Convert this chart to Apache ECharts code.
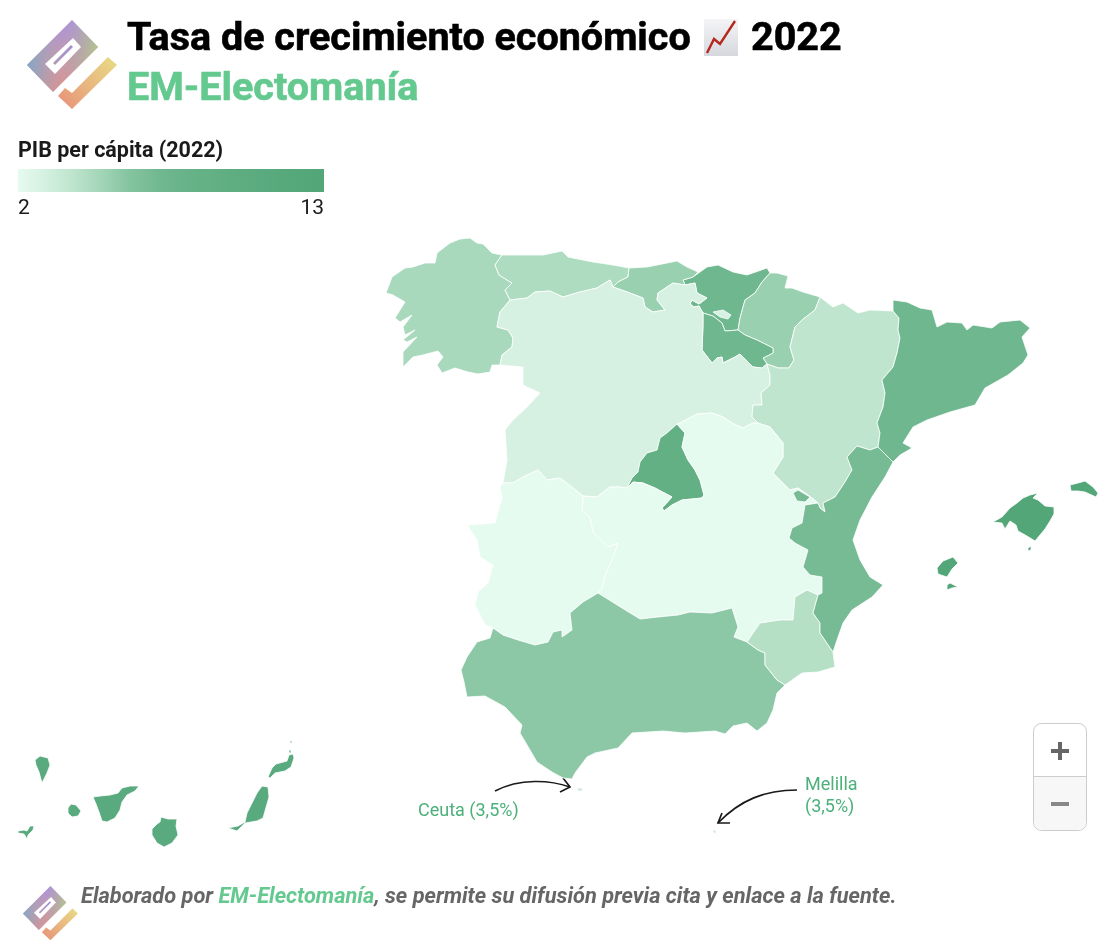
<!DOCTYPE html>
<html><head><meta charset="utf-8">
<style>html,body{margin:0;padding:0;background:#fff}#c{width:1108px;height:950px}</style>
<script src="https://cdn.jsdelivr.net/npm/echarts@6/dist/echarts.min.js"></script>
</head><body><div id="c"></div>
<script>
// ---- data ----
const regionNames = ['Galicia','Asturias','Cantabria','País Vasco','Navarra','La Rioja','Castilla y León','Madrid','Aragón','Cataluña','Castilla-La Mancha','Extremadura','Andalucía','Murcia','C. Valenciana','Baleares','Canarias','Ceuta','Melilla'];
const regionValues = [4.75,4.55,5.3,7.3,5.3,7.3,2.9,9,3.9,7.3,2.0,2.0,5.75,4.3,6.8,13,11,3.5,3.5];
const rampColors = ['#e6fbf0','#d4f0df','#bde4cd','#a2d5b7','#85c4a0','#72b991','#68b389','#62b084','#5dad81','#59aa7e','#55a87a','#52a677'];
const legendTitle = 'PIB per cápita (2022)';
const legendMin = 2, legendMax = 13;
const titleText = 'Tasa de crecimiento económico';
const titleYear = '2022';
const subtitleText = 'EM-Electomanía';

// ---- map geometry (map units) ----
const galAst=[[502,255],[495,265],[499,275],[507,280],[512,283],[505,290],[510,300]];
const galCyl=[[510,300],[500,312],[497,327],[508,330],[513,338],[512,347],[502,355],[500,365]];
const astCyl=[[510,300],[527,298],[535,292],[550,291],[563,297],[580,292],[597,288],[610,280],[613,287]];
const astCan=[[629,268],[628,277],[618,282],[613,287]];
const canCyl=[[613,287],[630,293],[643,298],[645,307],[653,312],[665,310],[657,300],[658,293],[673,283],[685,285]];
const pvW=[[685,285],[695,283],[697,293],[707,298],[699,304],[692,300],[690,304],[694,307],[699,306],[703,313]];
const pvRio=[[703,313],[713,316],[722,323],[725,331],[738,330]];
const navRio=[[738,330],[745,335],[757,340],[773,348],[773,353],[763,358],[767,364],[778,368],[789,368]];
const rioCyl=[[703,313],[703,325],[702,350],[712,363],[717,358],[722,357],[723,363],[735,357],[740,354],[753,367],[762,368],[767,364]];
const navPv=[[770,273],[762,282],[755,293],[745,300],[740,318],[738,330]];
const navAra=[[820,297],[815,310],[802,320],[795,327],[790,347],[794,360],[789,368]];
const araCyl=[[767,364],[770,375],[770,385],[761,393],[762,405],[753,405],[752,417],[758,423]];
const cylClmN=[[758,423],[753,423],[743,428],[732,423],[723,417],[712,413],[697,414],[680,423],[677,424]];
const madCyl=[[677,424],[667,433],[660,438],[657,450],[647,453],[640,462],[638,472],[632,478],[627,488]];
const madS=[[627,488],[633,482],[643,483],[655,488],[672,497],[662,508],[664,511],[672,505],[682,500],[702,498],[704,495],[700,480],[695,470],[688,460],[682,447],[685,433],[677,424]];
const cylClmS=[[627,488],[620,487],[610,487],[597,497],[583,496]];
const cylExt=[[583,496],[573,488],[560,478],[547,480],[538,470],[523,477],[513,483],[503,483]];
const araCat=[[893,311],[899,318],[898,330],[900,338],[897,353],[893,367],[882,380],[885,393],[883,407],[877,423],[880,433],[878,447]];
const araVal=[[878,447],[870,450],[857,446],[847,457],[852,470],[845,482],[835,497],[823,503],[825,512],[820,508],[818,503]];
const araClm=[[818,503],[812,498],[798,488],[790,490],[773,473],[783,457],[783,443],[770,427],[758,423]];
const valClm=[[818,503],[805,505],[802,523],[792,528],[789,538],[795,543],[808,550],[803,567],[810,575],[822,577],[822,593],[818,595]];
const murVal=[[818,595],[813,613],[820,623],[820,633],[833,652]];
const murClm=[[818,595],[807,590],[795,597],[793,620],[780,620],[760,623],[747,642]];
const andClm=[[747,642],[734,637],[738,627],[732,608],[712,613],[690,612],[678,615],[658,617],[640,619],[622,608],[598,593]];
const andExt=[[598,593],[583,602],[570,613],[572,630],[562,637],[562,630],[553,632],[548,642],[535,645],[518,640],[503,635],[493,628]];
const extClm=[[598,593],[602,588],[605,575],[612,560],[618,543],[608,547],[593,532],[590,518],[582,510],[583,496]];
const andMur=[[747,642],[758,650],[765,653],[765,665],[777,680],[785,685]];
const rev=a=>a.slice().reverse();
const join=(...p)=>{const o=[];p.forEach(s=>s.forEach(q=>{const l=o[o.length-1];if(!l||l[0]!==q[0]||l[1]!==q[1])o.push(q);}));if(o[0][0]!==o[o.length-1][0]||o[0][1]!==o[o.length-1][1])o.push(o[0]);return o;};

const shapes={
'Galicia':[join([[386,293],[392,277],[405,268],[413,267],[425,263],[435,263],[437,253],[450,243],[460,239],[470,238],[477,243],[483,244],[492,253],[502,255]],galAst,galCyl,[[492,365],[490,372],[478,374],[468,372],[455,368],[442,373],[437,365],[443,357],[438,351],[423,355],[413,357],[403,367],[403,352],[417,337],[407,342],[403,340],[415,330],[405,335],[403,327],[412,315],[400,322],[395,318],[405,302],[393,295]])],
'Asturias':[join([[502,255],[523,255],[543,255],[562,251],[568,257],[593,262],[613,265],[629,268]],astCan,rev(astCyl),rev(galAst))],
'Cantabria':[join([[629,268],[647,267],[667,263],[677,261],[687,267],[698,272],[693,277],[683,280],[685,285]],rev(canCyl),rev(astCan))],
'País Vasco':[join([[693,277],[707,267],[718,265],[733,272],[747,275],[767,268],[770,273]],navPv,rev(pvRio),rev(pvW),[[683,280]])],
'Navarra':[join([[770,273],[777,273],[788,276],[785,288],[792,288],[803,292],[820,297]],navAra,rev(navRio),rev(navPv))],
'La Rioja':[join(rioCyl,[[763,358],[773,353],[773,348],[757,340],[745,335],[738,330]],rev(pvRio))],
'Castilla y León':[join(astCyl,canCyl,pvW,rioCyl,araCyl,cylClmN,madCyl,cylClmS,cylExt,[[507,460],[505,430],[513,420],[527,407],[540,393],[527,387],[523,385],[523,367]],rev(galCyl)),
  join([[713,312],[723,310],[731,315],[728,319],[720,317]])],
'Madrid':[join(madS,madCyl)],
'Aragón':[join([[820,297],[833,307],[843,303],[858,313],[870,310],[893,311]],araCat,araVal,araClm,rev(araCyl),[[778,368],[789,368]],rev(navAra))],
'Cataluña':[join([[893,300],[907,302],[920,308],[932,310],[937,327],[947,322],[962,323],[967,330],[973,325],[992,328],[1000,322],[1020,320],[1030,328],[1022,337],[1028,355],[1023,363],[1008,375],[985,388],[975,405],[950,412],[927,420],[913,427],[903,443],[912,448],[900,455],[893,462],[878,447]],rev(araCat))],
'Castilla-La Mancha':[join(rev(cylClmS),madS,rev(cylClmN),rev(araClm),valClm,murClm,andClm,extClm)],
'Extremadura':[join(cylExt,[[500,487],[502,497],[495,523],[467,525],[477,540],[480,557],[493,565],[488,583],[478,592],[475,605],[485,625],[493,628]],rev(andExt),extClm)],
'Andalucía':[join(rev(andClm),andMur,[[777,693],[773,710],[767,723],[757,731],[747,723],[733,726],[725,734],[715,731],[685,733],[663,731],[632,733],[618,748],[595,753],[587,757],[575,773],[572,779],[563,778],[552,772],[537,762],[530,750],[520,733],[522,725],[505,707],[485,696],[467,697],[464,682],[461,670],[467,657],[477,642],[490,638],[493,628]],rev(andExt))],
'Murcia':[join(rev(murClm),murVal,[[835,667],[818,672],[802,673],[785,685]],rev(andMur))],
'C. Valenciana':[join([[893,462],[885,477],[872,497],[860,520],[853,540],[860,560],[870,577],[883,585],[872,597],[852,610],[843,623],[837,640],[833,652]],rev(murVal),rev(valClm),rev(araVal)),
  join([[793,493],[798,490],[810,497],[805,502],[797,501]])],
'Baleares':[join([[993,522],[1002,517],[1010,508],[1017,503],[1023,498],[1030,495],[1038,493],[1033,498],[1038,500],[1045,506],[1054,507],[1054,514],[1050,521],[1045,529],[1040,535],[1035,541],[1027,536],[1018,531],[1016,525],[1010,521],[1005,529],[1002,523]]),
  join([[1070,485],[1078,483],[1085,481],[1093,487],[1098,493],[1096,497],[1085,492],[1078,491],[1071,491]]),
  join([[937,568],[943,561],[953,557],[958,563],[952,569],[947,577],[938,574]]),
  join([[947,585],[950,583],[958,587],[952,588],[947,590]]),
  join([[1028,548],[1031,546],[1031,550],[1028,551]])],
'Canarias':[join([[35,760],[40,756],[48,758],[50,765],[47,773],[42,783],[39,772],[36,765]]),
  join([[68,808],[71,804],[76,805],[81,811],[78,816],[72,817],[68,813]]),
  join([[18,831],[24,830],[27,831],[30,826],[34,826],[33,830],[28,835],[27,839],[24,834],[18,833]]),
  join([[93,797],[100,796],[110,795],[118,793],[122,788],[130,786],[139,786],[135,791],[127,795],[122,802],[120,810],[115,818],[107,822],[102,821],[99,812],[96,804]]),
  join([[161,817],[168,819],[177,819],[176,826],[178,835],[172,843],[164,847],[157,843],[152,835],[152,829],[157,824],[160,822]]),
  join([[228,828],[238,826],[245,822],[247,813],[257,793],[262,786],[268,787],[269,797],[263,818],[257,821],[245,823],[237,831]]),
  join([[268,777],[272,768],[276,764],[287,761],[289,755],[293,754],[294,758],[291,767],[285,771],[275,773],[270,778]]),
  join([[289,750],[291,750],[291,753],[289,753]]),join([[290,741],[292,741],[292,743],[290,743]])],
'Ceuta':[join([[577,788],[582,788],[583,791],[578,791]])],
'Melilla':[join([[713,830],[716,830],[716,833],[713,833]])]
};
const drawOrder=['País Vasco','Galicia','Asturias','Cantabria','Navarra','La Rioja','Castilla y León','Madrid','Aragón','Cataluña','Castilla-La Mancha','Extremadura','Andalucía','Murcia','C. Valenciana','Baleares','Canarias','Ceuta','Melilla'];
const geojson={type:'FeatureCollection',features:drawOrder.map(n=>({type:'Feature',properties:{name:n},geometry:{type:'MultiPolygon',coordinates:shapes[n].map(r=>[r])}}))};
echarts.registerMap('espana',geojson);
let x0=1e9,x1=-1e9,y0=1e9,y1=-1e9;
Object.values(shapes).forEach(m=>m.forEach(r=>r.forEach(p=>{x0=Math.min(x0,p[0]);x1=Math.max(x1,p[0]);y0=Math.min(y0,p[1]);y1=Math.max(y1,p[1]);})));

// ---- logo ----
function logo(ox,oy,s){
  const P=a=>a.map(p=>[ox+(p[0]-27)*s,oy+(p[1]-20)*s]);
  const lg=(x,y,x2,y2,st)=>({type:'linear',x,y,x2,y2,colorStops:st.map((c,i)=>({offset:i/(st.length-1),color:c}))});
  const poly=(pts,fill)=>({type:'polygon',silent:true,shape:{points:P(pts)},style:{fill}});
  const body=[[72,20],[98,47],[53,92],[27,65]];
  return [
    poly(body,lg(0.5,0,0.5,1,['#ad8fe2','#c59cab','#e0918a'])),
    poly(body,lg(0,0.5,1,0.5,['rgba(115,170,205,.85)','rgba(170,160,190,.1)','rgba(175,205,130,.85)'])),
    poly([[73,38],[81,47],[55,74],[45,64]],'#ffffff'),
    poly([[71,45],[73,47],[55,65],[53,63]],lg(1,0,0,1,['#a58fd8','#b09ab8'])),
    poly([[108,57],[117,65],[72,109],[58,96],[65,88],[72,93]],lg(1,0,0,1,['#e8dc84','#e8b880','#e88f78'])),
  ];
}
const GREEN='#63c98f', ANN='#4cb07a';
const T=(text,x,y,style)=>({type:'text',silent:true,x,y,style:Object.assign({text,fontFamily:'Roboto',textVerticalAlign:'middle'},style)});
const graphics=[
  ...logo(27,20,1),
  T(titleText,127,40.5,{fontSize:39.5,fontWeight:'bold',fill:'#000',stroke:'#000',lineWidth:0.6}),
  {type:'rect',silent:true,shape:{x:704,y:19,width:34,height:37},style:{fill:{type:'linear',x:0,y:0,x2:0,y2:1,colorStops:[{offset:0,color:'#f4f4f6'},{offset:1,color:'#d6d8de'}]}}},
  {type:'polyline',silent:true,shape:{points:[[707,53],[714,39],[720,44],[735,21]]},style:{stroke:'#b5281e',lineWidth:2.4,fill:'none'}},
  T(titleYear,751,40.5,{fontSize:39.5,fontWeight:'bold',fill:'#000',stroke:'#000',lineWidth:0.6}),
  T(subtitleText,127,90,{fontSize:39.5,fontWeight:'bold',fill:GREEN,stroke:GREEN,lineWidth:0.6}),
  T(legendTitle,18,152,{fontSize:21.5,fontWeight:'bold',fill:'#1a1a1a'}),
  {type:'rect',silent:true,shape:{x:18,y:169,width:306,height:23},style:{fill:{type:'linear',x:0,y:0,x2:1,y2:0,colorStops:rampColors.map((c,i)=>({offset:i/(rampColors.length-1),color:c}))}}},
  T(String(legendMin),18,208.5,{fontSize:21,fill:'#1a1a1a'}),
  T(String(legendMax),324,208.5,{fontSize:21,fill:'#1a1a1a',textAlign:'right'}),
  T('Ceuta (3,5%)',418,811,{fontSize:18,fill:ANN}),
  T('Melilla',805,785,{fontSize:18,fill:ANN}),
  T('(3,5%)',805,807,{fontSize:18,fill:ANN}),
  {type:'bezierCurve',silent:true,shape:{x1:495,y1:791,x2:570,y2:787,cpx1:520,cpy1:778,cpx2:550,cpy2:780},style:{stroke:'#1a1a1a',lineWidth:1.7,fill:'none'}},
  {type:'polyline',silent:true,shape:{points:[[563,778],[570,787],[560,792]]},style:{stroke:'#1a1a1a',lineWidth:1.7,fill:'none'}},
  {type:'bezierCurve',silent:true,shape:{x1:797,y1:790,x2:718,y2:823,cpx1:765,cpy1:790,cpx2:740,cpy2:800},style:{stroke:'#1a1a1a',lineWidth:1.7,fill:'none'}},
  {type:'polyline',silent:true,shape:{points:[[722,813],[718,823],[730,823]]},style:{stroke:'#1a1a1a',lineWidth:1.7,fill:'none'}},
  {type:'rect',silent:true,shape:{x:1033.5,y:723.5,width:53,height:107,r:8},style:{fill:'#fff',stroke:'#ccc',lineWidth:1}},
  {type:'rect',silent:true,shape:{x:1034,y:777,width:52,height:53,r:[0,0,8,8]},style:{fill:'#f7f7f7'}},
  {type:'line',silent:true,shape:{x1:1033,y1:776.5,x2:1087,y2:776.5},style:{stroke:'#ccc',lineWidth:1}},
  {type:'rect',silent:true,shape:{x:1051,y:749,width:18,height:4},style:{fill:'#666'}},
  {type:'rect',silent:true,shape:{x:1058,y:742,width:4,height:18},style:{fill:'#666'}},
  {type:'rect',silent:true,shape:{x:1051,y:802,width:18,height:4},style:{fill:'#888'}},
  ...logo(23,886,0.61),
  {type:'text',silent:true,x:81,y:898,style:{text:'{a|Elaborado por }{b|EM-Electomanía}{a|, se permite su difusión previa cita y enlace a la fuente.}',textVerticalAlign:'middle',rich:{a:{fontFamily:'Roboto',fontSize:21.8,fontWeight:'bold',fontStyle:'italic',fill:'#666'},b:{fontFamily:'Roboto',fontSize:21.8,fontWeight:'bold',fontStyle:'italic',fill:GREEN}}}}
];

const chart=echarts.init(document.getElementById('c'),null,{renderer:'canvas'});
chart.setOption({
  animation:false,
  backgroundColor:'#fff',
  visualMap:{type:'continuous',show:false,min:legendMin,max:legendMax,inRange:{color:rampColors}},
  series:[{type:'map',map:'espana',roam:false,silent:true,
    projection:{project:p=>p,unproject:p=>p},
    left:x0,top:y0,width:x1-x0,height:y1-y0,
    label:{show:false},
    itemStyle:{borderColor:'#fff',borderWidth:0.8},
    emphasis:{disabled:true},select:{disabled:true},
    data:regionNames.map((n,i)=>({name:n,value:regionValues[i]}))}],
  graphic:graphics
});
</script></body></html>
